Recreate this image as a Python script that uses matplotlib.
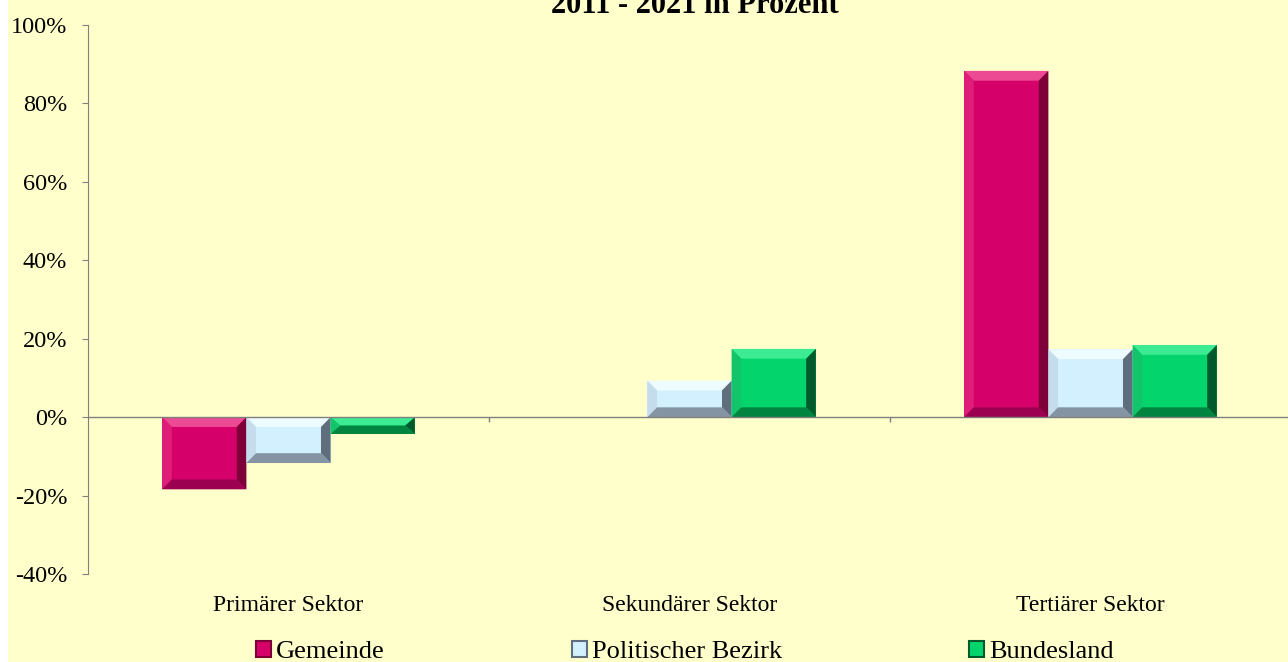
import numpy as np
import matplotlib
matplotlib.use("Agg")
import matplotlib.pyplot as plt
from matplotlib.patches import Polygon, Rectangle
from matplotlib.ticker import FuncFormatter

plt.rcParams["font.family"] = ["Liberation Serif", "DejaVu Serif"]

# data (change 2011 - 2021 in percent)
categories = ["Primärer Sektor", "Sekundärer Sektor", "Tertiärer Sektor"]
series = ["Gemeinde", "Politischer Bezirk", "Bundesland"]
gemeinde = [-18.4, 0.0, 88.3]
bezirk = [-11.7, 9.3, 17.3]
bundesland = [-4.3, 17.4, 18.4]
yticks = [-40, -20, 0, 20, 40, 60, 80, 100]

# face, top, left, right, bottom bevel colours
palettes = [
    ("#D5006A", "#EC4A92", "#DE1E78", "#7E0038", "#9C0050"),
    ("#D3F0FF", "#EEFBFF", "#C4DCEC", "#5E6E7C", "#8494A2"),
    ("#03D46B", "#3CEB92", "#12C46A", "#005A2C", "#00843F"),
]

W, H = 1288, 662
fig = plt.figure(figsize=(W / 100, H / 100), dpi=100)
fig.patch.set_facecolor("white")
fig.patches.append(Rectangle((8 / W, 0), 1, 1, transform=fig.transFigure,
                             facecolor="#FFFFCC", edgecolor="none", zorder=-10))

ax = fig.add_axes([88 / W, 1 - 574 / H, 1203 / W, 549 / H])
ax.set_facecolor("none")

bar_w = 0.21
bevel_x, bevel_y = 0.024, 2.5


def bevel_bar(x, v, cols):
    if v == 0:
        return
    x0, x1 = x - bar_w / 2, x + bar_w / 2
    y0, y1 = min(0, v), max(0, v)
    ax.bar(x, v, width=bar_w, color=cols[0], edgecolor="none", zorder=2)
    bx = min(bevel_x, bar_w / 2)
    by = min(bevel_y, (y1 - y0) / 2)
    polys = [
        ([(x0, y1), (x1, y1), (x1 - bx, y1 - by), (x0 + bx, y1 - by)], cols[1]),
        ([(x0, y0), (x0, y1), (x0 + bx, y1 - by), (x0 + bx, y0 + by)], cols[2]),
        ([(x1, y0), (x1, y1), (x1 - bx, y1 - by), (x1 - bx, y0 + by)], cols[3]),
        ([(x0, y0), (x1, y0), (x1 - bx, y0 + by), (x0 + bx, y0 + by)], cols[4]),
    ]
    for pts, c in polys:
        ax.add_patch(Polygon(pts, closed=True, facecolor=c, edgecolor="none", zorder=3))


x = np.arange(len(categories))
for i, vals in enumerate([gemeinde, bezirk, bundesland]):
    for xi, v in zip(x + (i - 1) * bar_w, vals):
        bevel_bar(xi, v, palettes[i])

ax.set_xlim(-0.5, len(categories) - 0.5)
ax.set_ylim(-40, 100)
ax.set_yticks(yticks)
ax.yaxis.set_major_formatter(FuncFormatter(lambda v, p: f"{v:.0f}%"))
ax.tick_params(axis="y", length=4, color="#808080", labelsize=17.5, pad=11)

ax.set_xticks(x)
ax.set_xticklabels(categories)
ax.tick_params(axis="x", length=0, labelsize=17, pad=15)

for s in ["top", "right", "bottom"]:
    ax.spines[s].set_visible(False)
ax.spines["left"].set_color("#808080")

ax.axhline(0, color="#808080", lw=1, zorder=4)
ax.vlines(x[:-1] + 0.5, -1.3, 0, color="#808080", lw=1, zorder=4)

handles = [Rectangle((0, 0), 1, 1, facecolor=p[0], edgecolor=p[3], lw=1.5) for p in palettes]
fig.legend(handles, series, loc="center", bbox_to_anchor=(685 / W, 1 - 652 / H),
           ncol=3, frameon=False, fontsize=19, handlelength=0.55, handleheight=0.55,
           handletextpad=0.2, columnspacing=7.1, borderpad=0)

fig.text(695 / W, 1 - 13 / H, "2011 - 2021 in Prozent", ha="center", va="baseline",
         fontsize=22, fontweight="bold")

fig.savefig("out.png", dpi=100)
